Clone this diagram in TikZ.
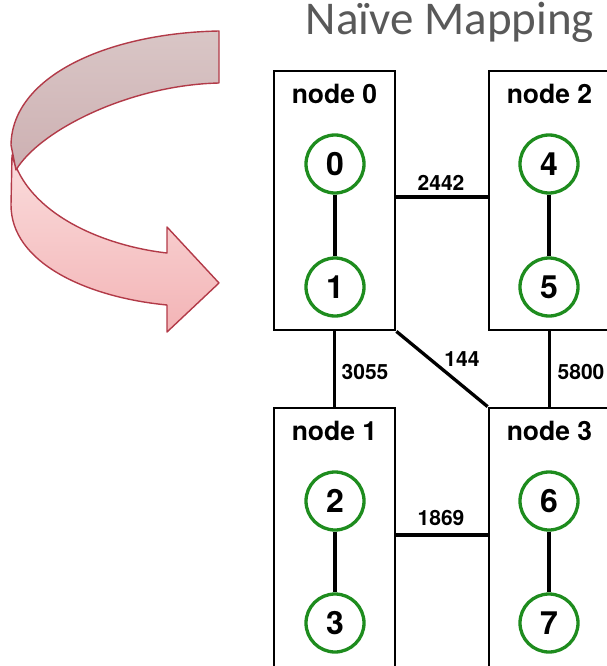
\documentclass[tikz,border=0pt]{standalone}
\usepackage{fontspec}
\setmainfont{TeX Gyre Heros}
\newfontfamily\titlefont{Carlito}
\definecolor{ringgreen}{HTML}{1E8C1E}
\definecolor{arrowred}{HTML}{B23A48}
\definecolor{backtop}{HTML}{D9C6C6}
\definecolor{backbot}{HTML}{CDB0B2}
\definecolor{fronttop}{HTML}{FADCDC}
\definecolor{frontbot}{HTML}{F3B4B6}
\definecolor{titlegray}{HTML}{595959}
\tikzset{
  hostbox/.style={draw=black, line width=2.8pt, minimum width=121pt, minimum height=259pt, inner sep=0pt},
  hostlabel/.style={font=\bfseries\fontsize{26.5}{30}\selectfont, anchor=base, inner sep=0pt},
  rank/.style={circle, draw=ringgreen, line width=3.3pt, minimum size=58pt, inner sep=0pt, font=\bfseries\fontsize{32}{34}\selectfont},
  link/.style={line width=3.3pt, black},
  weight/.style={font=\bfseries\fontsize{21}{24}\selectfont, inner sep=0pt},
  ribbon/.style={draw=arrowred, line width=1.4pt, line join=round}
}
\begin{document}
\begin{tikzpicture}[x=1pt,y=-1pt]
\useasboundingbox (0,0) rectangle (607,666);
% ribbon arrow
\path[ribbon, top color=fronttop, bottom color=frontbot]
  (12,155) -- (11,205) .. controls (11,262) and (85,297) .. (167,305)
  -- (167,332) -- (219,283) -- (167,227) -- (167,253)
  .. controls (105,246) and (28,215) .. (12,155) -- cycle;
\path[ribbon, top color=backtop, bottom color=backbot]
  (219,31) .. controls (110,33) and (12,75) .. (11,145) -- (16,170)
  .. controls (40,130) and (130,85) .. (219,83) -- cycle;
% title
\node[font=\titlefont\fontsize{47}{52}\selectfont, text=titlegray, anchor=base, inner sep=0pt] (title) at (450,35) {Naïve Mapping};
% boxes
\node[hostbox] (box0) at (334.5,200.5) {};
\node[hostbox] (box2) at (549.5,200.5) {};
\node[hostbox] (box1) at (334.5,537.5) {};
\node[hostbox] (box3) at (549.5,537.5) {};
\node[hostlabel] (lab0) at (334.5,103.5) {node 0};
\node[hostlabel] (lab2) at (549.5,103.5) {node 2};
\node[hostlabel] (lab1) at (334.5,440.5) {node 1};
\node[hostlabel] (lab3) at (549.5,440.5) {node 3};
% ranks
\node[rank] (r0) at (335,164) {0};
\node[rank] (r1) at (335,287) {1};
\node[rank] (r4) at (549,164) {4};
\node[rank] (r5) at (549,287) {5};
\node[rank] (r2) at (335,501) {2};
\node[rank] (r3) at (335,623) {3};
\node[rank] (r6) at (549,501) {6};
\node[rank] (r7) at (549,623) {7};
\draw[link] (r0) -- (r1);
\draw[link] (r4) -- (r5);
\draw[link] (r2) -- (r3);
\draw[link] (r6) -- (r7);
% inter-node links
\draw[link] ([yshift=3.5pt]box0.east) -- ([yshift=3.5pt]box2.west);
\draw[link] ([yshift=2.5pt]box1.east) -- ([yshift=2.5pt]box3.west);
\draw[link] (box0.south) -- (box1.north);
\draw[link] (box2.south) -- (box3.north);
\draw[link] (box0.south east) -- (box3.north west);
% weights
\node[weight] (w2442) at (441,183) {2442};
\node[weight] (w1869) at (441,518) {1869};
\node[weight] (w3055) at (365,372) {3055};
\node[weight] (w144) at (462,359) {144};
\node[weight] (w5800) at (581,372) {5800};
\end{tikzpicture}
\end{document}
